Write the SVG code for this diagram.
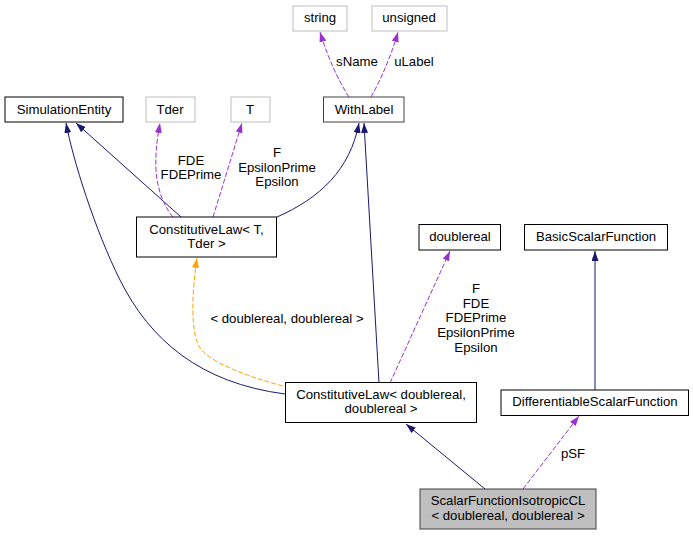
<svg xmlns="http://www.w3.org/2000/svg" width="693" height="536" viewBox="0 0 693 536">
<style>
text{font-family:"Liberation Sans",Arial,sans-serif;font-size:13.2px;fill:#000;text-anchor:middle}
.n{fill:#fff;stroke:#000;stroke-width:1}
.g{fill:#fff;stroke:#bfbfbf;stroke-width:1}
.h{fill:#bfbfbf;stroke:#404040;stroke-width:1}
.nv{fill:none;stroke:#191970;stroke-width:1}
.pu{fill:none;stroke:#9a32cd;stroke-width:1;stroke-dasharray:5,2}
.or{fill:none;stroke:#ffa500;stroke-width:1;stroke-dasharray:5,2}
</style>
<defs>
<marker id="aN" markerUnits="userSpaceOnUse" markerWidth="11" markerHeight="8" refX="10" refY="3.5" orient="auto"><path d="M0,0 L10,3.5 L0,7 z" fill="#191970"/></marker>
<marker id="aP" markerUnits="userSpaceOnUse" markerWidth="11" markerHeight="8" refX="10" refY="3.5" orient="auto"><path d="M0,0 L10,3.5 L0,7 z" fill="#9a32cd"/></marker>
<marker id="aO" markerUnits="userSpaceOnUse" markerWidth="11" markerHeight="8" refX="10" refY="3.5" orient="auto"><path d="M0,0 L10,3.5 L0,7 z" fill="#ffa500"/></marker>
</defs>
<rect width="693" height="536" fill="#fff"/>
<g id="edges">
<path class="pu" d="M349,97 C343,88 330,65 320,32" marker-end="url(#aP)"/>
<text x="357" y="66">sName</text>
<path class="pu" d="M371,97 C378,85 390,60 398,32" marker-end="url(#aP)"/>
<text x="414" y="66">uLabel</text>
<path class="nv" d="M181,217 L76,123" marker-end="url(#aN)"/>
<path class="nv" d="M285,394 C200,383 150,340 120,280 C95,230 73,160 66,123" marker-end="url(#aN)"/>
<path class="pu" d="M173,217 C165,208 157,190 156,170 C155,150 158,135 160,123" marker-end="url(#aP)"/>
<text x="191" y="165">FDE</text>
<text x="191" y="179">FDEPrime</text>
<path class="pu" d="M213,217 L242,123" marker-end="url(#aP)"/>
<text x="277" y="157">F</text>
<text x="277" y="172">EpsilonPrime</text>
<text x="277" y="186">Epsilon</text>
<path class="nv" d="M277,217 C320,198 350,170 359,123" marker-end="url(#aN)"/>
<path class="nv" d="M379,383 L364,123" marker-end="url(#aN)"/>
<path class="pu" d="M390,383 L450,251" marker-end="url(#aP)"/>
<text x="476" y="293">F</text>
<text x="476" y="308">FDE</text>
<text x="476" y="322">FDEPrime</text>
<text x="476" y="337">EpsilonPrime</text>
<text x="476" y="352">Epsilon</text>
<path class="or" d="M283,386 C245,376 210,362 200,348 C190,333 192,290 197,258" marker-end="url(#aO)"/>
<text x="287" y="323">&lt; doublereal, doublereal &gt;</text>
<path class="nv" d="M595,390 L595,251" marker-end="url(#aN)"/>
<path class="nv" d="M485,489 L406,424" marker-end="url(#aN)"/>
<path class="pu" d="M523,489 L579,416" marker-end="url(#aP)"/>
<text x="573" y="458">pSF</text>
</g>
<g id="string"><rect class="g" x="293" y="6" width="54" height="25"/><text x="320" y="22">string</text></g>
<g id="unsigned"><rect class="g" x="372" y="6" width="75" height="25"/><text x="409" y="22">unsigned</text></g>
<g id="SimulationEntity"><rect class="n" x="5" y="97" width="118" height="25"/><text x="64" y="114">SimulationEntity</text></g>
<g id="Tder"><rect class="g" x="146" y="97" width="49" height="25"/><text x="170" y="114">Tder</text></g>
<g id="T"><rect class="g" x="231" y="97" width="39" height="25"/><text x="250" y="114">T</text></g>
<g id="WithLabel"><rect class="n" x="323.5" y="97" width="80.5" height="25" style="stroke:#404040"/><text x="364" y="114">WithLabel</text></g>
<g id="ConstitutiveLawT"><rect class="n" x="136.5" y="217" width="140" height="40"/><text x="206.5" y="233.5">ConstitutiveLaw&lt; T,</text><text x="206.5" y="248">Tder &gt;</text></g>
<g id="doublereal"><rect class="n" x="419" y="224.5" width="81.5" height="25.5"/><text x="460" y="241">doublereal</text></g>
<g id="BasicScalarFunction"><rect class="n" x="524.5" y="224.5" width="143" height="25.5"/><text x="596" y="241">BasicScalarFunction</text></g>
<g id="ConstitutiveLawDR"><rect class="n" x="285.5" y="382.5" width="191" height="40"/><text x="381" y="398.5">ConstitutiveLaw&lt; doublereal,</text><text x="381" y="413">doublereal &gt;</text></g>
<g id="DifferentiableScalarFunction"><rect class="n" x="501" y="390" width="187.5" height="25.5"/><text x="595" y="406">DifferentiableScalarFunction</text></g>
<g id="ScalarFunctionIsotropicCL"><rect class="h" x="420" y="489" width="176" height="40"/><text x="508" y="505">ScalarFunctionIsotropicCL</text><text x="508" y="520">&lt; doublereal, doublereal &gt;</text></g>
</svg>
